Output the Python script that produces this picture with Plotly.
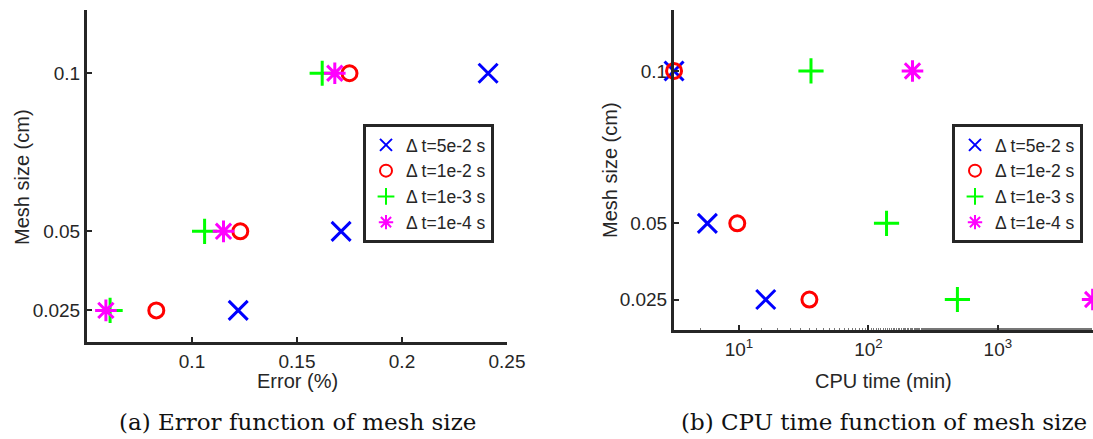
import plotly.graph_objects as go

mesh = [0.1, 0.05, 0.025]
labels = ["Δ t=5e-2 s", "Δ t=1e-2 s", "Δ t=1e-3 s", "Δ t=1e-4 s"]
colors = ["#0000FF", "#FF0000", "#00FF00", "#FF00FF"]
symbols = ["x-thin", "circle-open", "cross-thin", "asterisk-open"]
sizes = [19, 15, 18, 18]

# Error (%) for each time step, ordered as mesh
err_dt5e2 = [0.241, 0.171, 0.122]
err_dt1e2 = [0.175, 0.123, 0.083]
err_dt1e3 = [0.162, 0.106, 0.061]
err_dt1e4 = [0.168, 0.115, 0.059]

# CPU time (min)
cpu_dt5e2 = [3.15, 5.7, 16.1]
cpu_dt1e2 = [3.15, 9.7, 35.0]
cpu_dt1e3 = [36.0, 138.0, 487.0]
cpu_dt1e4 = [219.0, 1060.0, 5400.0]

errs = [err_dt5e2, err_dt1e2, err_dt1e3, err_dt1e4]
cpus = [cpu_dt5e2, cpu_dt1e2, cpu_dt1e3, cpu_dt1e4]

W, H = 1093, 439
AX = "#262626"
SANS = "Liberation Sans, Arial, sans-serif"
SERIF = "DejaVu Serif, serif"

fig = go.Figure()
for i in range(4):
    fig.add_trace(go.Scatter(
        x=errs[i], y=mesh, mode="markers", name=labels[i],
        marker=dict(symbol=symbols[i], size=sizes[i], color=colors[i],
                    line=dict(color=colors[i], width=3)),
        xaxis="x", yaxis="y", legend="legend", cliponaxis=False))
for i in range(4):
    fig.add_trace(go.Scatter(
        x=cpus[i], y=mesh, mode="markers", name=labels[i],
        marker=dict(symbol=symbols[i], size=sizes[i], color=colors[i],
                    line=dict(color=colors[i], width=3)),
        xaxis="x2", yaxis="y2", legend="legend2", cliponaxis=False))

axis_common = dict(showline=True, linecolor=AX, linewidth=3, mirror=False,
                   ticks="inside", ticklen=5, tickwidth=2, tickcolor=AX,
                   showgrid=False, zeroline=False, automargin=False,
                   tickfont=dict(family=SANS, size=19, color=AX))

legend_common = dict(yanchor="top", xanchor="left", bgcolor="white", bordercolor=AX,
                     borderwidth=3, itemsizing="constant", tracegroupgap=0,
                     font=dict(family=SANS, size=17.5, color=AX))

fig.update_layout(
    width=W, height=H, margin=dict(l=0, r=0, t=0, b=0, autoexpand=False),
    paper_bgcolor="white", plot_bgcolor="white",
    xaxis=dict(domain=[87 / W, 507 / W], range=[0.05, 0.25],
               tickvals=[0.1, 0.15, 0.2, 0.25], ticktext=["0.1", "0.15", "0.2", "0.25"],
               anchor="y", **axis_common),
    yaxis=dict(domain=[1 - 342 / H, 1 - 10 / H], range=[0.015, 0.12],
               tickvals=mesh, ticktext=["0.1", "0.05", "0.025"],
               anchor="x", **axis_common),
    xaxis2=dict(domain=[674 / W, 1.0], type="log", range=[0.498, 3.735],
                tickvals=[10, 100, 1000],
                ticktext=["10<sup>1</sup>", "10<sup>2</sup>", "10<sup>3</sup>"],
                minor=dict(ticks="inside", ticklen=2, tickwidth=1, tickcolor="#777777"),
                anchor="y2", **axis_common),
    yaxis2=dict(domain=[1 - 330 / H, 1 - 10 / H], range=[0.015, 0.12],
                tickvals=mesh, ticktext=["0.1", "0.05", "0.025"],
                anchor="x2", **axis_common),
    legend=dict(x=363 / W, y=1 - 124 / H, **legend_common),
    legend2=dict(x=952 / W, y=1 - 124 / H, **legend_common),
    showlegend=True,
)

title_font = dict(family=SANS, size=20, color=AX)
axis_titles = [
    ("Error (%)", 297, 381, 0),
    ("CPU time (min)", 883, 381, 0),
    ("Mesh size (cm)", 22, 177, -90),
    ("Mesh size (cm)", 610, 170, -90),
]
for txt, px, py, ang in axis_titles:
    fig.add_annotation(text=txt, x=px / W, y=1 - py / H, xref="paper", yref="paper",
                       showarrow=False, xanchor="center", yanchor="middle",
                       textangle=ang, font=title_font)

fig.add_annotation(text="(a) Error function of mesh size", x=297 / W, y=1 - 422 / H,
                   xref="paper", yref="paper", showarrow=False, xanchor="center", yanchor="middle",
                   font=dict(family=SERIF, size=23, color="#111111"))
fig.add_annotation(text="(b) CPU time function of mesh size", x=884 / W, y=1 - 422 / H,
                   xref="paper", yref="paper", showarrow=False, xanchor="center", yanchor="middle",
                   font=dict(family=SERIF, size=23, color="#111111"))

fig.write_html("out.html", config={"displayModeBar": False},
               post_script="document.body.style.margin='0';document.body.style.overflow='hidden';")
